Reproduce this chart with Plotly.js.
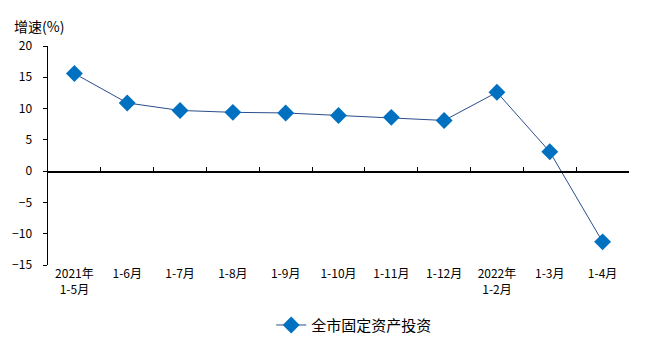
<!DOCTYPE html>
<html>
<head>
<meta charset="utf-8">
<script src="https://cdn.plot.ly/plotly-3.0.1.min.js"></script>
<style>html,body{margin:0;padding:0;background:#fff;}#chart{width:665px;height:354px;}</style>
</head>
<body>
<div id="chart"></div>
<script>
const categories = ["2021年<br>1-5月", "1-6月", "1-7月", "1-8月", "1-9月", "1-10月", "1-11月", "1-12月", "2022年<br>1-2月", "1-3月", "1-4月"];
const growth = [15.6, 10.9, 9.7, 9.4, 9.3, 8.9, 8.6, 8.1, 12.6, 3.1, -11.3];
const seriesName = "全市固定资产投资";
const yTitle = "增速(%)";
const yTicks = [-15, -10, -5, 0, 5, 10, 15, 20];

const font = "'Noto Sans CJK SC', 'Noto Sans', sans-serif";
const idx = categories.map((c, i) => i);
const boundaries = [];
for (let i = 0; i <= categories.length; i++) boundaries.push(i - 0.5);

const trace = {
  x: idx,
  y: growth,
  type: 'scatter',
  mode: 'lines+markers',
  name: seriesName,
  line: {color: '#2B4E8C', width: 1},
  marker: {symbol: 'diamond', size: 13, color: '#0070C0', line: {width: 0}}
};
const yMin = -15, yMax = 20;
const layout = {
  width: 665, height: 354,
  margin: {l: 48, r: 36, t: 46, b: 89},
  paper_bgcolor: '#fff', plot_bgcolor: '#fff',
  font: {family: font, size: 12, color: '#000'},
  showlegend: true,
  legend: {orientation: 'h', x: 0.527, xanchor: 'center', y: -0.275, yanchor: 'middle', font: {family: font, size: 15, color: '#000'}},
  xaxis: {
    range: [-0.5, categories.length - 0.5],
    tickmode: 'array', tickvals: idx, ticktext: categories,
    showline: false, showgrid: false, zeroline: false, ticks: '',
    tickfont: {family: font, size: 12, color: '#000'},
    fixedrange: true
  },
  xaxis2: {
    overlaying: 'x', anchor: 'free', position: (0 - yMin) / (yMax - yMin),
    range: [-0.5, categories.length - 0.5],
    tickmode: 'array', tickvals: boundaries, showticklabels: false,
    ticks: 'inside', ticklen: 4, tickcolor: '#000', tickwidth: 1,
    showline: true, linecolor: '#000', linewidth: 1.5,
    showgrid: false, zeroline: false
  },
  yaxis: {
    range: [yMin, yMax], tickmode: 'array', tickvals: yTicks,
    showline: true, linecolor: '#000', linewidth: 1.5,
    ticks: 'outside', ticklen: 4, tickcolor: '#000', tickwidth: 1,
    showgrid: false, zeroline: false,
    ticklabelstandoff: 8,
    tickfont: {family: font, size: 12, color: '#000'}
  },
  annotations: [{
    text: yTitle, xref: 'paper', yref: 'paper', x: 0, y: 1, xshift: -36, yshift: 8,
    xanchor: 'left', yanchor: 'bottom', showarrow: false,
    font: {family: font, size: 14, color: '#000'}
  }]
};
const dummy = {x: [0], y: [null], xaxis: 'x2', showlegend: false, hoverinfo: 'skip', mode: 'lines'};
Plotly.newPlot('chart', [dummy, trace], layout, {displayModeBar: false, staticPlot: true});
</script>
</body>
</html>
